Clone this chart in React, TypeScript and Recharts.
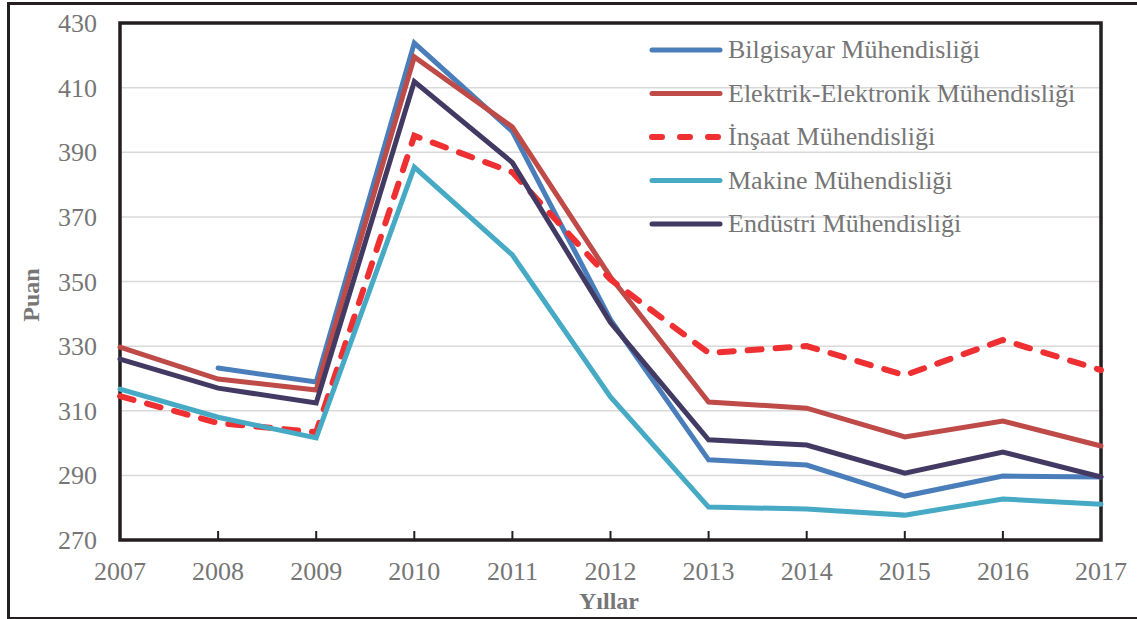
import React from "react";
import {
  LineChart,
  Line,
  XAxis,
  YAxis,
  CartesianGrid,
  ReferenceArea,
} from "recharts";

const YEARS = [2007, 2008, 2009, 2010, 2011, 2012, 2013, 2014, 2015, 2016, 2017];
const Y_TICKS = [270, 290, 310, 330, 350, 370, 390, 410, 430];

const BILGISAYAR = [null, 323.2, 318.9, 423.8, 396.4, 338.2, 294.8, 293.2, 283.6, 289.8, 289.5];
const ELEKTRIK = [329.7, 319.8, 316.4, 419.5, 397.8, 351.4, 312.7, 310.8, 301.9, 306.8, 299.1];
const INSAAT = [314.5, 306.2, 303.4, 395.1, 383.8, 350.6, 327.9, 330.0, 321.0, 331.9, 322.6];
const MAKINE = [316.7, 308.0, 301.6, 385.4, 358.2, 314.3, 280.2, 279.6, 277.7, 282.7, 281.1];
const ENDUSTRI = [326.0, 317.0, 312.4, 411.9, 386.8, 337.3, 301.0, 299.4, 290.7, 297.2, 289.5];

const SERIES = [
  { key: "bilgisayar", name: "Bilgisayar Mühendisliği", color: "#4a7ebb", dashed: false },
  { key: "elektrik", name: "Elektrik-Elektronik Mühendisliği", color: "#be4b48", dashed: false },
  { key: "insaat", name: "İnşaat Mühendisliği", color: "#ef3032", dashed: true },
  { key: "makine", name: "Makine Mühendisliği", color: "#46aac5", dashed: false },
  { key: "endustri", name: "Endüstri Mühendisliği", color: "#433a63", dashed: false },
];

const data = YEARS.map((year, i) => ({
  year,
  bilgisayar: BILGISAYAR[i],
  elektrik: ELEKTRIK[i],
  insaat: INSAAT[i],
  makine: MAKINE[i],
  endustri: ENDUSTRI[i],
}));

const FONT = '"Liberation Serif", "Times New Roman", serif';
const GRAY = "#767676";
const DASH = "14 14";

function XTick(props: any) {
  const { x, y, payload } = props;
  return (
    <g>
      <line x1={x} y1={y - 1} x2={x} y2={y - 9} stroke="#231f20" strokeWidth={2} />
      <text x={x} y={y + 40} textAnchor="middle" fill={GRAY} fontSize={26} fontFamily={FONT}>
        {payload.value}
      </text>
    </g>
  );
}

function YTick(props: any) {
  const { x, y, payload } = props;
  return (
    <text x={x - 23} y={y + 9} textAnchor="end" fill={GRAY} fontSize={26} fontFamily={FONT}>
      {payload.value}
    </text>
  );
}

function LegendBox() {
  return (
    <svg
      width={480}
      height={220}
      style={{ position: "absolute", left: 638, top: 28, pointerEvents: "none" }}
    >
      {SERIES.map((s, i) => {
        const cy = 22 + i * 43.5;
        return (
          <g key={s.key}>
            <line
              x1={14}
              y1={cy}
              x2={82}
              y2={cy}
              stroke={s.color}
              strokeWidth={s.dashed ? 6 : 5}
              strokeLinecap="round"
              strokeDasharray={s.dashed ? "10 18" : undefined}
            />
            <text x={90} y={cy + 8} fill={GRAY} fontSize={26} fontFamily={FONT}>
              {s.name}
            </text>
          </g>
        );
      })}
    </svg>
  );
}

export default function App() {
  return (
    <div style={{ position: "absolute", left: 0, top: 0, width: 1137, height: 619, background: "#fff" }}>
      <div
        style={{
          position: "absolute",
          left: 7,
          top: 2,
          width: 1140,
          height: 612,
          border: "3px solid #231f20",
        }}
      />
      <LineChart
        width={1137}
        height={619}
        data={data}
        margin={{ top: 23, right: 36, bottom: 0, left: 0 }}
      >
        <CartesianGrid vertical={false} stroke="#d9d9d9" strokeWidth={1.5} />
        <XAxis
          dataKey="year"
          type="number"
          domain={[2007, 2017]}
          ticks={YEARS}
          tickLine={false}
          axisLine={false}
          tickSize={0}
          tickMargin={0}
          tick={<XTick />}
          interval={0}
          height={79}
        />
        <YAxis
          width={120}
          domain={[270, 430]}
          ticks={Y_TICKS}
          tickLine={false}
          axisLine={false}
          tickSize={0}
          tickMargin={0}
          tick={<YTick />}
          interval={0}
        />
        <ReferenceArea
          x1={2007}
          x2={2017}
          y1={270}
          y2={430}
          fill="none"
          fillOpacity={0}
          stroke="#231f20"
          strokeWidth={3.5}
          strokeOpacity={1}
        />
        {SERIES.map((s) => (
          <Line
            key={s.key}
            type="linear"
            dataKey={s.key}
            name={s.name}
            stroke={s.color}
            strokeWidth={s.dashed ? 6 : 5}
            strokeDasharray={s.dashed ? DASH : undefined}
            strokeLinecap="round"
            dot={false}
            activeDot={false}
            isAnimationActive={false}
          />
        ))}
      </LineChart>
      <LegendBox />
      <div
        style={{
          position: "absolute",
          left: 31,
          top: 295,
          transform: "translate(-50%, -50%) rotate(-90deg)",
          fontFamily: FONT,
          fontWeight: "bold",
          fontSize: 24,
          color: GRAY,
          whiteSpace: "nowrap",
        }}
      >
        Puan
      </div>
      <div
        style={{
          position: "absolute",
          left: 609,
          top: 601,
          transform: "translate(-50%, -50%)",
          fontFamily: FONT,
          fontWeight: "bold",
          fontSize: 24,
          color: GRAY,
          whiteSpace: "nowrap",
        }}
      >
        Yıllar
      </div>
    </div>
  );
}
